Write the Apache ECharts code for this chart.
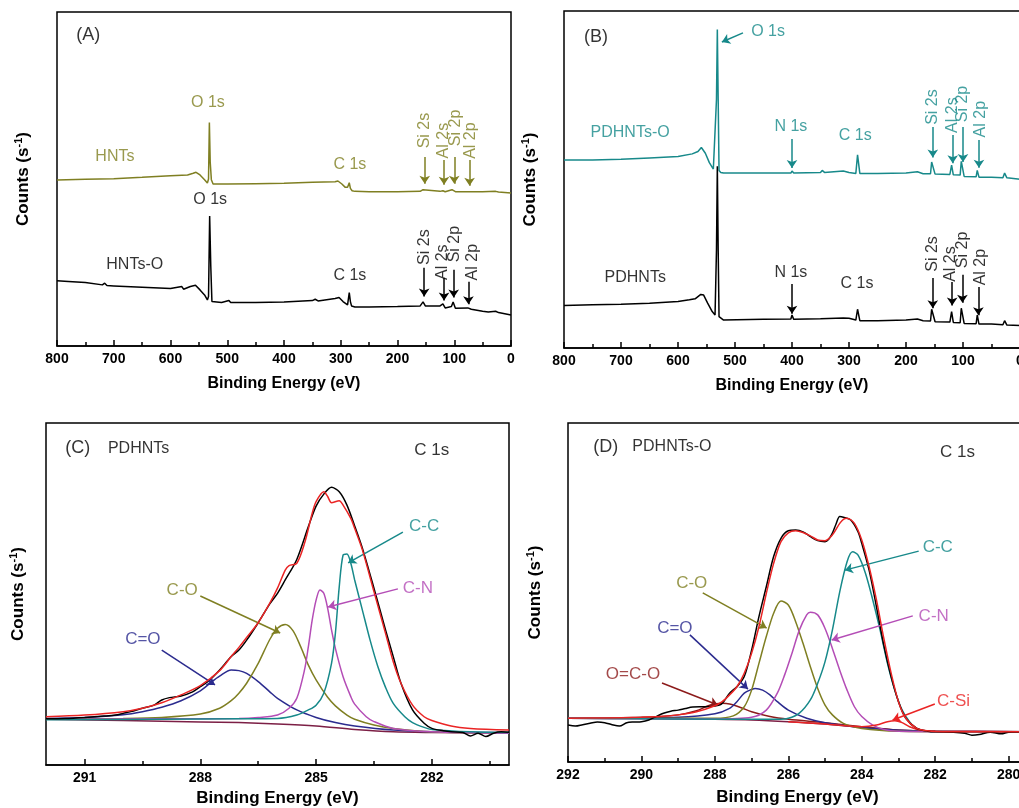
<!DOCTYPE html>
<html><head><meta charset="utf-8">
<script src="https://cdn.jsdelivr.net/npm/echarts@6/dist/echarts.min.js"></script>
<style>html,body{margin:0;padding:0;overflow:hidden;background:#fff}#c{width:1040px;height:808px}</style>
</head><body><div id="c"></div>
<script>
// ---------------- DATA (binding energy eV, counts arb. units) ----------------
const surveyTicks = [0,100,200,300,400,500,600,700,800];
const hnts = [[800,49.7],[750,49.9],[700,50.1],[650,50.5],[600,51.0],[570,51.2],[560,51.7],[555,52.0],[548,51.2],[540,49.8],[535,48.8],[533,50.0],[531.5,66.9],[530,55],[528,49.8],[525,48.5],[500,48.5],[450,48.6],[400,48.7],[350,49.0],[310,49.2],[305,49.4],[298,48.5],[292,47.5],[288,47.5],[285,48.9],[283,47.2],[280,46.5],[275,46.3],[250,46.2],[200,46.2],[160,46.3],[155,46.8],[152,46.3],[125,46.3],[120,46.5],[116,46.2],[104,46.8],[102,46.9],[98,46.2],[75,46.2],[50,46.2],[27,46.3],[25,46.5],[22,46.1],[0,45.8]];
const hntsO = [[800,19.5],[780,19.3],[750,19.0],[720,18.3],[716,18.8],[712,18.1],[700,18.0],[650,17.6],[600,17.2],[580,17.8],[577,17.0],[565,17.8],[556,18.2],[548,16.8],[540,15.3],[535,13.8],[533,14.8],[531,38.9],[529,23.8],[527,13.3],[510,13.0],[497,13.6],[494,13.0],[450,13.0],[400,13.2],[350,13.6],[345,14.0],[340,13.5],[310,14.2],[303,14.5],[296,13.3],[288,12.3],[285,16.0],[283,13.3],[281,12.0],[275,11.7],[250,11.7],[200,11.8],[160,12.0],[155,13.2],[151,12.0],[125,12.0],[120,12.6],[116,11.4],[105,11.8],[102,13.2],[98,11.3],[76,11.4],[74,11.8],[70,11.0],[50,10.4],[40,10.2],[27,10.4],[25,10.8],[22,10.0],[0,9.3]];
const pdhntsO = [[800,55.8],[750,55.8],[700,56.0],[650,56.4],[600,56.8],[575,57.6],[565,58.3],[559,59.5],[552,57.8],[545,55.0],[538,53.1],[535,52.7],[532.5,73.7],[531,94.5],[529.5,73.7],[528,52.7],[525,52.1],[520,51.9],[450,51.9],[402,51.9],[400,52.5],[397,51.9],[350,52.1],[347,52.7],[343,52.1],[310,52.5],[300,52.1],[288,51.8],[285,57.3],[283,57.3],[281,51.8],[250,51.8],[200,51.9],[180,52.3],[170,51.7],[157,51.7],[155,55.2],[152,55.2],[149,51.6],[123,51.5],[120,54.3],[117,51.4],[105,51.3],[103,55.4],[101,55.4],[98,50.9],[77,50.8],[75,52.7],[72,50.7],[50,50.7],[30,50.5],[27,51.9],[23,50.5],[0,50.1]];
const pdhnts = [[800,12.6],[750,12.8],[700,13.0],[650,13.3],[600,13.8],[580,14.3],[570,14.6],[560,15.9],[555,15.7],[548,13.3],[540,10.8],[535,9.8],[532.5,29],[531,53.9],[529.5,29],[528,9.3],[525,8.8],[520,8.3],[450,8.5],[402,8.6],[400,9.8],[397,8.5],[350,8.7],[310,8.9],[300,8.8],[288,8.3],[285,11.5],[283,11.3],[281,8.1],[250,8.1],[200,8.3],[180,8.6],[170,8.1],[157,8.0],[155,11.5],[152,11.3],[149,7.8],[123,7.7],[120,10.8],[117,7.6],[105,7.5],[103,11.8],[101,11.6],[98,7.3],[77,7.2],[75,9.8],[72,7.1],[50,7.1],[30,6.9],[27,8.1],[23,6.8],[0,6.7]];

// C 1s of PDHNTs
const cTickLabels = [282,285,288,291];
const cMinorTicks = [280.5,283.5,286.5,289.5];
const cRaw = [[292,13.5],[291.5,13.6],[291,13.9],[290.5,14.3],[290.2,14.6],[290,15.1],[289.8,15.6],[289.5,16.6],[289.2,17.5],[289,19.0],[288.8,19.7],[288.5,20.2],[288.2,21.4],[288,22.9],[287.8,24.4],[287.5,27.8],[287.2,31.7],[287,33.6],[286.8,36.5],[286.5,41.6],[286.2,47.1],[286,50.2],[285.8,54.1],[285.5,60.1],[285.2,69.7],[285,75.7],[284.8,79.2],[284.6,81.2],[284.4,79.9],[284.2,76.0],[284,69.9],[283.8,63.4],[283.5,51.7],[283.2,39.5],[283,31.7],[282.8,23.9],[282.5,16.1],[282.2,12.2],[282,10.7],[281.7,10.0],[281.5,9.7],[281.2,9.5],[281,8.5],[280.8,9.3],[280.6,8.3],[280.4,9.3],[280.2,9.7],[280,9.6]];
const cFit = [[292,14.1],[291,14.6],[290,15.6],[289.5,16.6],[289,18.2],[288.5,20.5],[288,23.2],[287.5,27.6],[287.2,31.7],[287,34.4],[286.8,37.3],[286.5,41.6],[286.2,47.3],[286,51.7],[285.8,57.0],[285.7,58.3],[285.5,59.0],[285.3,64.8],[285.1,73.6],[285,77.0],[284.8,79.9],[284.7,78.5],[284.6,76.7],[284.4,77.3],[284.3,76.0],[284.1,72.1],[284,69.2],[283.8,62.9],[283.5,50.7],[283.2,38.5],[283,30.2],[282.8,23.9],[282.5,17.5],[282.2,14.1],[282,13.0],[281.5,11.4],[281,10.7],[280,10.2]];
const cBase = [[292,13.4],[290,13.0],[288,12.6],[287,12.4],[286,12.0],[285,11.4],[284,10.4],[283,9.7],[282,9.5],[280,9.3]];
const cCdO = [[292,13.6],[291,13.9],[290,14.7],[289.5,15.6],[289,16.9],[288.5,18.8],[288,21.7],[287.7,24.4],[287.5,26.0],[287.2,27.8],[287,27.6],[286.8,26.8],[286.5,24.4],[286.2,21.4],[286,19.5],[285.5,16.1],[285,13.9],[284.5,12.4],[284,11.4],[283,10.2],[282,9.7],[280,9.5]];
const cCO = [[292,13.4],[290,13.6],[289,13.9],[288,14.9],[287.5,16.6],[287.2,18.8],[287,21.0],[286.8,23.9],[286.5,29.7],[286.2,36.7],[286,40.0],[285.8,41.1],[285.6,39.3],[285.4,34.6],[285.2,29.2],[285,24.9],[284.7,19.8],[284.5,17.3],[284.2,14.6],[284,13.4],[283.5,11.7],[283,10.7],[282,9.7],[280,9.3]];
const cCN = [[292,13.4],[289,13.5],[287,13.6],[286.5,13.9],[286,14.6],[285.7,16.6],[285.5,19.5],[285.3,27.8],[285.2,34.6],[285.1,42.4],[285,48.2],[284.9,51.2],[284.8,50.2],[284.7,45.8],[284.6,39.5],[284.5,34.1],[284.3,25.8],[284.1,20.0],[284,17.8],[283.7,14.1],[283.5,12.7],[283,10.7],[282,9.7],[280,9.3]];
const cCC = [[292,13.2],[289,13.4],[287,13.5],[286,13.6],[285.5,14.6],[285.2,16.1],[285,17.5],[284.8,21.0],[284.6,29.7],[284.5,38.5],[284.4,52.1],[284.3,61.4],[284.2,61.7],[284.1,59.0],[284,54.1],[283.8,45.3],[283.6,36.5],[283.4,28.8],[283.2,22.7],[283,18.0],[282.7,14.1],[282.5,12.4],[282.2,11.0],[282,10.4],[281,9.7],[280,9.5]];

// C 1s of PDHNTs-O
const dTickLabels = [280,282,284,286,288,290,292];
const dMinorTicks = [281,283,285,287,289,291];
const dRaw = [[292,10.9],[291.8,10.6],[291.6,11.0],[291.4,11.4],[291.2,11.8],[291,11.6],[290.8,11.0],[290.6,10.6],[290.4,11.6],[290.2,11.8],[290,11.9],[289.8,12.4],[289.6,13.4],[289.4,14.4],[289.2,15.0],[289,15.3],[288.8,15.8],[288.6,16.2],[288.3,16.3],[288,16.5],[287.8,17.3],[287.6,20.3],[287.4,22.2],[287.2,25.2],[287,33.0],[286.8,42.9],[286.6,51.7],[286.4,60.6],[286.2,66.0],[286,68.2],[285.8,68.4],[285.6,67.9],[285.4,66.5],[285.2,65.3],[285,65.0],[284.9,65.7],[284.8,67.5],[284.7,70.2],[284.6,72.4],[284.5,72.2],[284.3,71.4],[284.1,67.9],[284,64.5],[283.8,56.6],[283.6,45.8],[283.4,34.5],[283.2,25.2],[283,17.8],[282.8,12.9],[282.5,9.9],[282.2,9.1],[282,8.9],[281.5,8.8],[281.2,8.5],[281,7.9],[280.8,8.1],[280.5,8.8],[280.2,8.3],[280,8.8],[279.5,8.9]];
const dFit = [[292,12.9],[291,13.0],[290,13.2],[289.5,13.4],[289,13.9],[288.5,14.8],[288,16.6],[287.8,17.8],[287.6,19.8],[287.4,22.2],[287.2,26.2],[287,32.1],[286.8,39.9],[286.6,49.7],[286.4,58.6],[286.2,65.0],[286,67.6],[285.8,68.2],[285.6,67.7],[285.4,66.7],[285.2,65.5],[285,65.3],[284.8,67.0],[284.6,70.4],[284.5,71.6],[284.4,71.9],[284.2,70.4],[284,65.5],[283.8,57.6],[283.6,47.8],[283.4,36.5],[283.2,26.2],[283,17.8],[282.8,12.9],[282.5,9.9],[282.2,9.2],[282,9.0],[281,8.9],[279.5,8.9]];
const dBase = [[292,12.9],[290,12.8],[288,12.6],[287,12.4],[286,11.9],[285,11.2],[284,10.2],[283,9.4],[282,9.1],[279.5,8.9]];
const dOCO = [[292,12.9],[290,13.2],[289,13.9],[288.5,15.1],[288.2,16.5],[288,17.1],[287.8,17.3],[287.6,17.1],[287.3,16.1],[287,14.8],[286.5,13.4],[286,12.6],[285,11.6],[284,10.4],[283,9.4],[282,9.1],[279.5,8.9]];
const dCdO = [[292,12.9],[289,13.2],[288,14.2],[287.6,15.8],[287.4,17.8],[287.2,20.3],[287,21.4],[286.9,21.7],[286.7,21.2],[286.5,19.8],[286.3,17.8],[286,15.3],[285.5,12.9],[285,11.6],[284,10.2],[283,9.4],[282,9.1],[279.5,8.9]];
const dCO = [[292,12.9],[288,12.9],[287.5,13.6],[287.2,16.3],[287,21.2],[286.8,29.1],[286.6,37.0],[286.4,43.9],[286.2,47.5],[286,46.3],[285.8,41.4],[285.6,35.0],[285.4,28.1],[285.2,21.7],[285,16.8],[284.8,13.9],[284.5,11.4],[284,9.9],[283,9.1],[279.5,8.9]];
const dCN = [[292,12.9],[288,12.7],[287,13.2],[286.6,15.3],[286.3,20.3],[286.1,25.7],[285.9,32.1],[285.7,38.9],[285.5,43.4],[285.4,44.2],[285.2,43.4],[285,39.4],[284.8,33.5],[284.6,27.1],[284.4,21.2],[284.2,16.3],[284,13.4],[283.7,10.9],[283.4,9.6],[283,9.1],[279.5,8.9]];
const dCC = [[292,12.9],[287,12.6],[286.3,12.6],[286,12.9],[285.7,14.4],[285.4,18.3],[285.2,23.2],[285,29.6],[284.8,38.9],[284.6,50.2],[284.4,59.1],[284.25,62.0],[284.1,61.0],[283.9,55.7],[283.7,47.8],[283.5,38.9],[283.3,29.1],[283.1,21.2],[282.9,15.3],[282.7,11.9],[282.5,9.9],[282.2,9.1],[279.5,8.9]];
const dCSi = [[286,11.9],[285,11.2],[284,10.4],[283.6,10.9],[283.3,11.9],[283.1,12.2],[282.9,11.6],[282.7,10.4],[282.4,9.4],[282,9.1],[279.5,8.9]];

// ---------------- STYLE ----------------
const FONT = "'Liberation Sans', Arial, Helvetica, sans-serif";
const K = '#000000', OLIVE = '#7f7f22', TEAL = '#17898a', RED = '#ea2424',
      NAVY = '#2b2b8e', MAG = '#b44db6', DRED = '#8c1b1b', BASEC = '#7c1f45';

// annotations (text, eV, counts, colour, size, rotate)
const annotA = [['(A)',745,93,K,18],['HNTs',698,56.6,OLIVE,16],['O 1s',534,72.8,OLIVE,16],['C 1s',284,54.2,OLIVE,16],
  ['Si 2s',153,64.5,OLIVE,16,90],['Al 2s',118,61.5,OLIVE,16,90],['Si 2p',98,65.3,OLIVE,16,90],['Al 2p',71,61.5,OLIVE,16,90],
  ['HNTs-O',663,24.3,K,16],['O 1s',530,43.7,K,16],['C 1s',284,21,K,16],
  ['Si 2s',153,29.6,K,16,90],['Al 2s',120,25.1,K,16,90],['Si 2p',99,30.5,K,16,90],['Al 2p',68,25.1,K,16,90]];
const arrowsA = [[152,56.6,152,48.6,OLIVE],[118,55.7,118,48.3,OLIVE],[100,56.6,100,48.6,OLIVE],[73,55.7,73,48.0,OLIVE],
  [153,23.4,153,14.8,K],[118,20.4,118,13.6,K],[101,22.8,101,14.5,K],[75,19.2,75,12.5,K]];
const annotB = [['(B)',744,92.3,K,18],['O 1s',442,94,TEAL,16],['PDHNTs-O',684,63.8,TEAL,16],['N 1s',402,65.6,TEAL,16],['C 1s',289,62.9,TEAL,16],
  ['Si 2s',153,71.5,TEAL,16,90],['Al 2s',119,69.1,TEAL,16,90],['Si 2p',100,72.4,TEAL,16,90],['Al 2p',70,67.9,TEAL,16,90],
  ['PDHNTs',675,20.8,K,16],['N 1s',402,22.3,K,16],['C 1s',286,19,K,16],
  ['Si 2s',153,27.9,K,16,90],['Al 2s',121,24.9,K,16,90],['Si 2p',100,29.1,K,16,90],['Al 2p',70,24,K,16,90]];
const arrowsB = [[486,93.5,523,90.8,TEAL],[400,62,400,53.4,TEAL],[153,65.6,153,56.5,TEAL],[118,63.2,118,54.8,TEAL],[100,65.6,100,55.2,TEAL],[72,61.7,72,53.5,TEAL],
  [400,19,400,10.2,K],[153,20.8,153,11.8,K],[119,19.6,119,12.6,K],[101,21.7,101,13.4,K],[73,18.1,73,9.7,K]];
const annotC = [['(C)',291.18,92.6,K,18],['PDHNTs',289.6,92.6,K,16],['C 1s',282,92.1,K,17],
  ['C-C',282.2,69.9,TEAL,17],['C-N',282.36,51.8,MAG,17],['C-O',288.47,51.2,OLIVE,17],['C=O',289.49,36.8,NAVY,17]];
const arrowsC = [[282.75,68.1,284.17,59.1,TEAL],[282.88,51.5,284.69,46.2,MAG],[288.0,49.4,285.93,38.6,OLIVE],[289.0,33.6,287.62,23.4,NAVY]];
const annotD = [['(D)',290.97,93,K,18],['PDHNTs-O',289.17,93,K,16],['C 1s',281.39,91.4,K,17],
  ['C-C',281.93,63.4,TEAL,17],['C-N',282.04,43.1,MAG,17],['C-O',288.63,52.8,OLIVE,17],['C=O',289.09,39.5,NAVY,17],
  ['O=C-O',290.23,26,DRED,17],['C-Si',281.5,18,RED,17]];
const arrowsD = [[282.45,62.2,284.46,56.6,TEAL],[282.61,43.1,284.82,36.0,MAG],[288.33,49.9,286.59,39.5,OLIVE],[288.68,37.5,287.1,21.5,NAVY],
  [289.44,23.3,287.92,16.8,DRED],[282.01,17.1,283.16,12.4,RED]];

// ---------------- BUILD ----------------
const grids = [
  {left:57, top:12, width:454, height:334},
  {left:564, top:11, width:456, height:337},
  {left:46, top:423, width:463, height:342},
  {left:568, top:423, width:459, height:339}
].map(g => Object.assign({show:true, borderColor:'#000', borderWidth:1.5, backgroundColor:'transparent'}, g));

const tickStyle = {color:'#000', width:1.5};
const labelStyle = {color:'#000', fontWeight:'bold', fontSize:14, fontFamily:FONT, margin:6};
function xName(size){ return {color:'#000', fontWeight:'bold', fontSize:size, fontFamily:FONT}; }

const xAxes = [
  {gridIndex:0, type:'value', min:0, max:800, interval:100, inverse:true, position:'bottom',
   axisLine:{show:true, lineStyle:tickStyle}, axisTick:{inside:true, length:6, lineStyle:tickStyle},
   minorTick:{show:true, splitNumber:2, length:4, lineStyle:tickStyle}, axisLabel:labelStyle, splitLine:{show:false},
   name:'Binding Energy (eV)', nameLocation:'middle', nameGap:30, nameTextStyle:xName(16)},
  {gridIndex:1, type:'value', min:0, max:800, interval:100, inverse:true, position:'bottom',
   axisLine:{show:true, lineStyle:tickStyle}, axisTick:{inside:true, length:6, lineStyle:tickStyle},
   minorTick:{show:true, splitNumber:2, length:4, lineStyle:tickStyle}, axisLabel:labelStyle, splitLine:{show:false},
   name:'Binding Energy (eV)', nameLocation:'middle', nameGap:30, nameTextStyle:xName(16)},
  {gridIndex:2, type:'value', min:280, max:292, inverse:true, position:'bottom',
   axisLine:{show:true, lineStyle:tickStyle}, axisTick:{inside:true, length:6, lineStyle:tickStyle, customValues:cTickLabels},
   axisLabel:Object.assign({customValues:cTickLabels}, labelStyle), splitLine:{show:false},
   name:'Binding Energy (eV)', nameLocation:'middle', nameGap:25, nameTextStyle:xName(17)},
  {gridIndex:3, type:'value', min:279.5, max:292, inverse:true, position:'bottom',
   axisLine:{show:true, lineStyle:tickStyle}, axisTick:{inside:true, length:6, lineStyle:tickStyle, customValues:dTickLabels},
   axisLabel:Object.assign({customValues:dTickLabels}, labelStyle), splitLine:{show:false},
   name:'Binding Energy (eV)', nameLocation:'middle', nameGap:27, nameTextStyle:xName(17)},
  {gridIndex:2, type:'value', min:280, max:292, inverse:true, position:'bottom',
   axisLine:{show:false}, axisTick:{show:true, inside:true, length:4, lineStyle:tickStyle, customValues:cMinorTicks},
   axisLabel:{show:false}, splitLine:{show:false}},
  {gridIndex:3, type:'value', min:279.5, max:292, inverse:true, position:'bottom',
   axisLine:{show:false}, axisTick:{show:true, inside:true, length:4, lineStyle:tickStyle, customValues:dMinorTicks},
   axisLabel:{show:false}, splitLine:{show:false}}
];

const yNameRich = {
  a:{fontSize:17, fontWeight:'bold', fontFamily:FONT, color:'#000', lineHeight:20},
  b:{fontSize:11, fontWeight:'bold', fontFamily:FONT, color:'#000', verticalAlign:'top', lineHeight:12}
};
const yGaps = [24, 24, 18, 23];
const yAxes = yGaps.map((gap, i) => ({
  gridIndex:i, type:'value', min:0, max:100, axisLine:{show:false}, axisTick:{show:false}, axisLabel:{show:false}, splitLine:{show:false},
  name:'{a|Counts (s}{b|-1}{a|)}', nameLocation:'middle', nameGap:gap, nameTextStyle:{rich:yNameRich}
}));

function line(data, gi, color, width, z, smooth) {
  return {type:'line', xAxisIndex:gi, yAxisIndex:gi, data:data, symbol:'none', showSymbol:false,
    smooth:smooth || false, lineStyle:{color:color, width:width}, z:z, animation:false, silent:true};
}

function annotations(texts, arrows, gi) {
  return {
    type:'scatter', xAxisIndex:gi, yAxisIndex:gi, symbolSize:0, z:10, animation:false, silent:true,
    data: texts.map(t => ({
      value:[t[1], t[2]],
      label:{show:true, formatter:t[0], position:'inside', align:'center', verticalAlign:'middle',
        rotate:t[5] || 0, color:t[3], fontSize:t[4], fontFamily:FONT}
    })),
    markLine:{
      silent:true, animation:false, symbol:['none','arrow'], symbolSize:8, label:{show:false},
      emphasis:{disabled:true},
      data: arrows.map(a => [
        {coord:[a[0], a[1]], lineStyle:{color:a[4], width:1.5, type:'solid'}, itemStyle:{color:a[4]}},
        {coord:[a[2], a[3]]}
      ])
    }
  };
}

const series = [
  line(hnts, 0, OLIVE, 1.5, 3),
  line(hntsO, 0, K, 1.5, 3),
  line(pdhntsO, 1, TEAL, 1.5, 3),
  line(pdhnts, 1, K, 1.5, 3),
  line(cBase, 2, BASEC, 1.5, 2, 0.3),
  line(cCdO, 2, NAVY, 1.5, 3, 0.3),
  line(cCO, 2, OLIVE, 1.5, 3, 0.3),
  line(cCN, 2, MAG, 1.5, 3, 0.3),
  line(cCC, 2, TEAL, 1.5, 3, 0.3),
  line(cRaw, 2, K, 1.5, 4, 0.3),
  line(cFit, 2, RED, 1.5, 5, 0.3),
  line(dBase, 3, BASEC, 1.5, 2, 0.3),
  line(dOCO, 3, DRED, 1.5, 3, 0.3),
  line(dCdO, 3, NAVY, 1.5, 3, 0.3),
  line(dCO, 3, OLIVE, 1.5, 3, 0.3),
  line(dCN, 3, MAG, 1.5, 3, 0.3),
  line(dCC, 3, TEAL, 1.5, 3, 0.3),
  line(dCSi, 3, RED, 1.5, 3, 0.3),
  line(dRaw, 3, K, 1.5, 4, 0.3),
  line(dFit, 3, RED, 1.5, 5, 0.3),
  annotations(annotA, arrowsA, 0),
  annotations(annotB, arrowsB, 1),
  annotations(annotC, arrowsC, 2),
  annotations(annotD, arrowsD, 3)
];

const chart = echarts.init(document.getElementById('c'), null, {renderer:'canvas'});
chart.setOption({animation:false, backgroundColor:'#fff', textStyle:{fontFamily:FONT}, grid:grids, xAxis:xAxes, yAxis:yAxes, series:series});
</script></body></html>
